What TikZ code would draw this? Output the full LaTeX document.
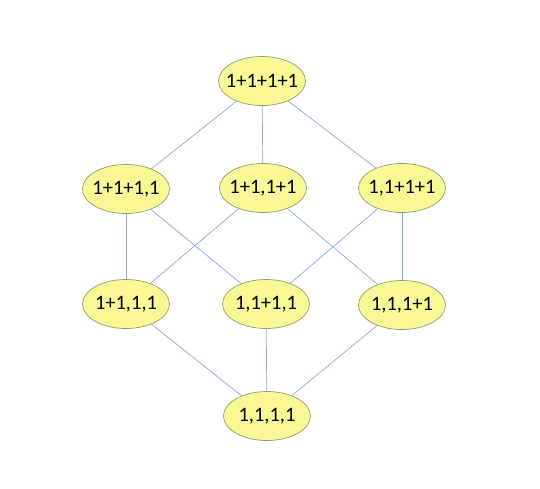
\documentclass[tikz,border=0pt]{standalone}
\usepackage{fontspec}
\setmainfont{Carlito}
\usetikzlibrary{shapes.geometric}
\definecolor{nodefill}{RGB}{250,247,150}
\definecolor{nodeline}{RGB}{140,160,110}
\definecolor{edgecol}{RGB}{140,170,215}
\begin{document}
\begin{tikzpicture}[x=1pt,y=-1pt,
  part/.style={ellipse,draw=nodeline,fill=nodefill,line width=0.7pt,
    minimum width=87pt,minimum height=49pt,inner xsep=-10pt,inner ysep=0pt,
    font=\fontsize{20.5}{22}\selectfont},
  link/.style={draw=edgecol,line width=0.7pt}]
\useasboundingbox (0,0) rectangle (540,488);
\node[part] (a) at (262,81) {1+1+1+1};
\node[part] (b1) at (126,189) {1+1+1,1};
\node[part] (b2) at (263,188) {1+1,1+1};
\node[part] (b3) at (402,188) {1,1+1+1};
\node[part] (c1) at (126,304) {1+1,1,1};
\node[part] (c2) at (266,304) {1,1+1,1};
\node[part] (c3) at (402,305) {1,1,1+1};
\node[part] (d) at (267,416) {1,1,1,1};
\path[link] (a) -- (b1);
\path[link] (a) -- (b2);
\path[link] (a) -- (b3);
\path[link] (b1) -- (c1);
\path[link] (b1) -- (c2);
\path[link] (b2) -- (c1);
\path[link] (b2) -- (c3);
\path[link] (b3) -- (c2);
\path[link] (b3) -- (c3);
\path[link] (c1) -- (d);
\path[link] (c2) -- (d);
\path[link] (c3) -- (d);
\end{tikzpicture}
\end{document}
